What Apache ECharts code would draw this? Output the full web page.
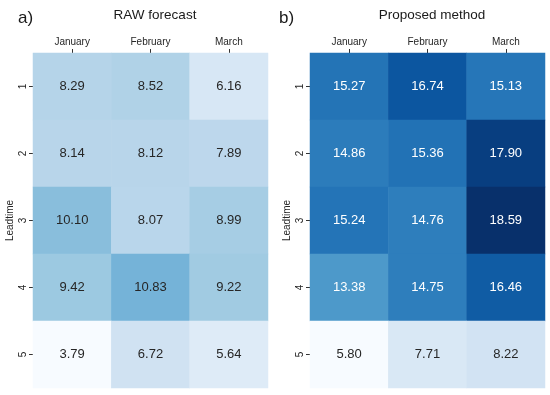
<!DOCTYPE html>
<html><head><meta charset="utf-8">
<script src="https://cdn.jsdelivr.net/npm/echarts@6/dist/echarts.min.js"></script>
<style>html,body{margin:0;padding:0;background:#fff}#c{width:550px;height:395px}</style>
</head><body><div id="c"></div>
<script>
var months = ['January', 'February', 'March'];
var leadtimes = ['1', '2', '3', '4', '5'];
// rows = leadtime 1..5, columns = Jan, Feb, Mar
var rawForecast = [
  [8.29, 8.52, 6.16],
  [8.14, 8.12, 7.89],
  [10.10, 8.07, 8.99],
  [9.42, 10.83, 9.22],
  [3.79, 6.72, 5.64]
];
var proposedMethod = [
  [15.27, 16.74, 15.13],
  [14.86, 15.36, 17.90],
  [15.24, 14.76, 18.59],
  [13.38, 14.75, 16.46],
  [5.80, 7.71, 8.22]
];
var blues = ['#f7fbff','#deebf7','#c6dbef','#9ecae1','#6baed6','#4292c6','#2171b5','#08519c','#08306b'];

function flat(m){var a=[];m.forEach(function(r){a=a.concat(r);});return a;}
var allMax = Math.max.apply(null, flat(rawForecast).concat(flat(proposedMethod)));
var rawMin = Math.min.apply(null, flat(rawForecast));
var propMin = Math.min.apply(null, flat(proposedMethod));

function build(m, vmin, vmax){
  var d=[];
  m.forEach(function(row,i){row.forEach(function(v,j){
    var t=(v-vmin)/(vmax-vmin);
    d.push({value:[j,i,v],label:{color:t>0.55?'#ffffff':'#262626'}});
  });});
  return d;
}
var font='"Liberation Sans", Arial, sans-serif';
function xAx(gi){return {type:'category',data:months,position:'top',gridIndex:gi,
  axisLine:{show:false},axisTick:{show:true,alignWithLabel:true,length:4,lineStyle:{color:'#333'}},
  axisLabel:{fontFamily:font,fontSize:10,color:'#262626',margin:6},splitLine:{show:false}};}
function yAx(gi){return {type:'category',data:leadtimes,inverse:true,gridIndex:gi,
  name:'Leadtime',nameLocation:'middle',nameRotate:90,nameGap:18,
  nameTextStyle:{fontFamily:font,fontSize:10,color:'#262626'},
  axisLine:{show:false},axisTick:{show:true,alignWithLabel:true,length:4,lineStyle:{color:'#333'}},
  axisLabel:{fontFamily:font,fontSize:10,color:'#262626',rotate:90,margin:5},splitLine:{show:false}};}

var chart=echarts.init(document.getElementById('c'),null,{renderer:'canvas'});
chart.setOption({
  animation:false,
  backgroundColor:'#fff',
  title:[
    {text:'RAW forecast',left:150,top:3,textAlign:'center',textStyle:{fontFamily:font,fontSize:13.5,fontWeight:'normal',color:'#1a1a1a'}},
    {text:'Proposed method',left:427,top:3,textAlign:'center',textStyle:{fontFamily:font,fontSize:13.5,fontWeight:'normal',color:'#1a1a1a'}},
    {text:'a)',left:13,top:5,textStyle:{fontFamily:font,fontSize:17,fontWeight:'normal',color:'#1a1a1a'}},
    {text:'b)',left:274,top:5,textStyle:{fontFamily:font,fontSize:17,fontWeight:'normal',color:'#1a1a1a'}}
  ],
  grid:[
    {left:33,top:53,width:235,height:335},
    {left:310,top:53,width:235,height:335}
  ],
  xAxis:[xAx(0),xAx(1)],
  yAxis:[yAx(0),yAx(1)],
  visualMap:[
    {type:'continuous',show:false,min:rawMin,max:allMax,seriesIndex:0,dimension:2,inRange:{color:blues}},
    {type:'continuous',show:false,min:propMin,max:allMax,seriesIndex:1,dimension:2,inRange:{color:blues}}
  ],
  series:[
    {type:'heatmap',xAxisIndex:0,yAxisIndex:0,data:build(rawForecast,rawMin,allMax),
     label:{show:true,fontFamily:font,fontSize:13,formatter:function(p){return p.value[2].toFixed(2);}}},
    {type:'heatmap',xAxisIndex:1,yAxisIndex:1,data:build(proposedMethod,propMin,allMax),
     label:{show:true,fontFamily:font,fontSize:13,formatter:function(p){return p.value[2].toFixed(2);}}}
  ]
});
</script></body></html>
